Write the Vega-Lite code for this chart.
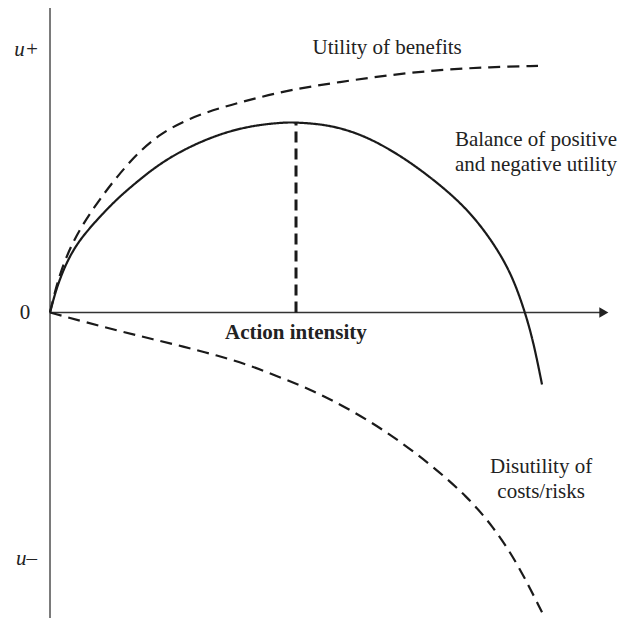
{
  "$schema": "https://vega.github.io/schema/vega-lite/v6.json",
  "width": 631,
  "height": 619,
  "autosize": {"type": "fit", "contains": "padding"},
  "padding": 0,
  "background": "white",
  "config": {"view": {"stroke": null}},
  "datasets": {
    "axes": [
      {"axis": "vertical", "x": 0, "y": -1.163, "x2": 0, "y2": 1.16},
      {"axis": "horizontal", "x": 0, "y": 0, "x2": 9.85, "y2": 0}
    ],
    "arrow": [{"x": 9.89, "y": 0}],
    "curves": [
      {"series": "benefits", "x": 0, "y": 0},
      {"series": "benefits", "x": 0.089, "y": 0.08},
      {"series": "benefits", "x": 0.179, "y": 0.148},
      {"series": "benefits", "x": 0.357, "y": 0.247},
      {"series": "benefits", "x": 0.589, "y": 0.338},
      {"series": "benefits", "x": 0.893, "y": 0.433},
      {"series": "benefits", "x": 1.196, "y": 0.517},
      {"series": "benefits", "x": 1.554, "y": 0.605},
      {"series": "benefits", "x": 1.964, "y": 0.681},
      {"series": "benefits", "x": 2.5, "y": 0.741},
      {"series": "benefits", "x": 3.089, "y": 0.783},
      {"series": "benefits", "x": 3.696, "y": 0.817},
      {"series": "benefits", "x": 4.286, "y": 0.848},
      {"series": "benefits", "x": 5.179, "y": 0.878},
      {"series": "benefits", "x": 6.071, "y": 0.905},
      {"series": "benefits", "x": 6.964, "y": 0.924},
      {"series": "benefits", "x": 7.857, "y": 0.935},
      {"series": "benefits", "x": 8.714, "y": 0.939},
      {"series": "balance", "x": 0, "y": 0},
      {"series": "balance", "x": 0.089, "y": 0.072},
      {"series": "balance", "x": 0.179, "y": 0.129},
      {"series": "balance", "x": 0.304, "y": 0.194},
      {"series": "balance", "x": 0.482, "y": 0.262},
      {"series": "balance", "x": 0.714, "y": 0.323},
      {"series": "balance", "x": 0.893, "y": 0.365},
      {"series": "balance", "x": 1.196, "y": 0.433},
      {"series": "balance", "x": 1.554, "y": 0.498},
      {"series": "balance", "x": 1.911, "y": 0.559},
      {"series": "balance", "x": 2.375, "y": 0.62},
      {"series": "balance", "x": 2.982, "y": 0.677},
      {"series": "balance", "x": 3.571, "y": 0.711},
      {"series": "balance", "x": 4.161, "y": 0.724},
      {"series": "balance", "x": 4.393, "y": 0.724},
      {"series": "balance", "x": 4.875, "y": 0.717},
      {"series": "balance", "x": 5.304, "y": 0.696},
      {"series": "balance", "x": 5.768, "y": 0.658},
      {"series": "balance", "x": 6.375, "y": 0.582},
      {"series": "balance", "x": 6.964, "y": 0.487},
      {"series": "balance", "x": 7.446, "y": 0.395},
      {"series": "balance", "x": 7.857, "y": 0.285},
      {"series": "balance", "x": 8.214, "y": 0.16},
      {"series": "balance", "x": 8.446, "y": 0.027},
      {"series": "balance", "x": 8.625, "y": -0.103},
      {"series": "balance", "x": 8.786, "y": -0.274},
      {"series": "disutility", "x": 0, "y": 0},
      {"series": "disutility", "x": 0.589, "y": -0.034},
      {"series": "disutility", "x": 1.196, "y": -0.068},
      {"series": "disutility", "x": 1.786, "y": -0.099},
      {"series": "disutility", "x": 2.375, "y": -0.129},
      {"series": "disutility", "x": 2.982, "y": -0.163},
      {"series": "disutility", "x": 3.571, "y": -0.201},
      {"series": "disutility", "x": 4.161, "y": -0.251},
      {"series": "disutility", "x": 4.643, "y": -0.293},
      {"series": "disutility", "x": 5.054, "y": -0.335},
      {"series": "disutility", "x": 5.661, "y": -0.407},
      {"series": "disutility", "x": 6.25, "y": -0.49},
      {"series": "disutility", "x": 6.839, "y": -0.586},
      {"series": "disutility", "x": 7.446, "y": -0.7},
      {"series": "disutility", "x": 7.911, "y": -0.814},
      {"series": "disutility", "x": 8.339, "y": -0.951},
      {"series": "disutility", "x": 8.786, "y": -1.141}
    ],
    "peak": [{"x": 4.393, "y": 0, "y2": 0.722}],
    "labels_center": [
      {"x": 6.02, "y": 1.008, "text": "Utility of benefits"},
      {"x": 8.77, "y": -0.589, "text": "Disutility of"},
      {"x": 8.77, "y": -0.684, "text": "costs/risks"},
      {"x": -0.446, "y": 0, "text": "0"}
    ],
    "labels_left": [
      {"x": 7.23, "y": 0.658, "text": "Balance of positive"},
      {"x": 7.23, "y": 0.563, "text": "and negative utility"}
    ],
    "labels_italic": [
      {"x": -0.42, "y": 1.0, "text": "u+"},
      {"x": -0.42, "y": -0.939, "text": "u–"}
    ],
    "labels_bold": [
      {"x": 4.39, "y": -0.076, "text": "Action intensity"}
    ]
  },
  "encoding": {
    "x": {"field": "x", "type": "quantitative", "scale": {"domain": [-0.893, 10.375], "nice": false, "zero": false}, "axis": null},
    "y": {"field": "y", "type": "quantitative", "scale": {"domain": [-1.163, 1.19], "nice": false, "zero": false}, "axis": null}
  },
  "layer": [
    {
      "data": {"name": "axes"},
      "mark": {"type": "rule", "strokeWidth": 1.6},
      "encoding": {
        "x2": {"field": "x2"},
        "y2": {"field": "y2"},
        "stroke": {"field": "axis", "type": "nominal", "scale": {"domain": ["vertical", "horizontal"], "range": ["#5a5a5a", "#333333"]}, "legend": null}
      }
    },
    {
      "data": {"name": "arrow"},
      "mark": {"type": "point", "shape": "triangle-right", "filled": true, "size": 110, "color": "#222222", "opacity": 1}
    },
    {
      "data": {"name": "curves"},
      "mark": {"type": "line", "interpolate": "basis", "strokeWidth": 2.2, "color": "#1a1a1a"},
      "encoding": {
        "detail": {"field": "series", "type": "nominal"},
        "strokeDash": {"field": "series", "type": "nominal", "scale": {"domain": ["benefits", "balance", "disutility"], "range": [[12, 7], [1, 0], [12, 7]]}, "legend": null}
      }
    },
    {
      "data": {"name": "peak"},
      "mark": {"type": "rule", "strokeWidth": 3, "strokeDash": [11, 6], "color": "#1a1a1a"},
      "encoding": {"y2": {"field": "y2"}}
    },
    {
      "data": {"name": "labels_center"},
      "mark": {"type": "text", "font": "Liberation Serif", "fontSize": 21, "align": "center", "baseline": "middle", "color": "#222222"},
      "encoding": {"text": {"field": "text"}}
    },
    {
      "data": {"name": "labels_left"},
      "mark": {"type": "text", "font": "Liberation Serif", "fontSize": 21, "align": "left", "baseline": "middle", "color": "#222222"},
      "encoding": {"text": {"field": "text"}}
    },
    {
      "data": {"name": "labels_italic"},
      "mark": {"type": "text", "font": "Liberation Serif", "fontSize": 21, "fontStyle": "italic", "align": "center", "baseline": "middle", "color": "#222222"},
      "encoding": {"text": {"field": "text"}}
    },
    {
      "data": {"name": "labels_bold"},
      "mark": {"type": "text", "font": "Liberation Serif", "fontSize": 21, "fontWeight": "bold", "align": "center", "baseline": "middle", "color": "#222222"},
      "encoding": {"text": {"field": "text"}}
    }
  ]
}
